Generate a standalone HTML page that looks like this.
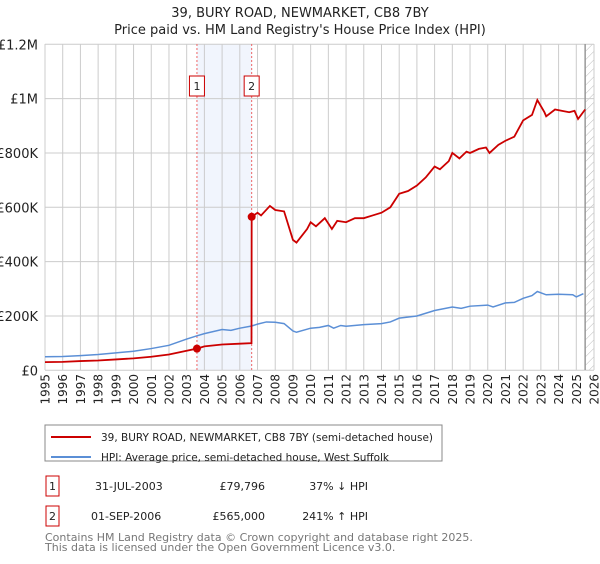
<!DOCTYPE html>
<html><head><meta charset="utf-8"><style>
body{margin:0;background:#fff;font-family:"DejaVu Sans","Liberation Sans",sans-serif;}
svg text{font-family:"DejaVu Sans","Liberation Sans",sans-serif;}
</style></head><body>
<svg id="c" width="600" height="560" xmlns="http://www.w3.org/2000/svg">
<defs><pattern id="hatch" patternUnits="userSpaceOnUse" width="6" height="6" patternTransform="rotate(45)"><line x1="0" y1="0" x2="0" y2="6" stroke="#bbb" stroke-width="1"/></pattern></defs>
<text x="300" y="17" text-anchor="middle" font-size="13" fill="#222">39, BURY ROAD, NEWMARKET, CB8 7BY</text>
<text x="300" y="34" text-anchor="middle" font-size="13" fill="#222">Price paid vs. HM Land Registry's House Price Index (HPI)</text>
<g id="grid"></g><g id="marks"></g>
<rect x="45" y="425" width="397" height="36" fill="#fff" stroke="#888"/>
<line x1="51" y1="437" x2="91" y2="437" stroke="#cc0000" stroke-width="2"/>
<text x="101" y="441" font-size="11" fill="#222" textLength="332" lengthAdjust="spacingAndGlyphs">39, BURY ROAD, NEWMARKET, CB8 7BY (semi-detached house)</text>
<line x1="51" y1="457" x2="91" y2="457" stroke="#5b8fd6" stroke-width="2"/>
<text x="101" y="461" font-size="11" fill="#222" textLength="288" lengthAdjust="spacingAndGlyphs">HPI: Average price, semi-detached house, West Suffolk</text>
<g font-size="11" fill="#222">
<rect x="46" y="476" width="13" height="20" fill="none" stroke="#cc0000"/>
<text x="52.5" y="490" text-anchor="middle">1</text>
<text x="95" y="490">31-JUL-2003</text>
<text x="265" y="490" text-anchor="end">£79,796</text>
<text x="368" y="490" text-anchor="end">37% ↓ HPI</text>
<rect x="46" y="506" width="13" height="20" fill="none" stroke="#cc0000"/>
<text x="52.5" y="520" text-anchor="middle">2</text>
<text x="91" y="520">01-SEP-2006</text>
<text x="265" y="520" text-anchor="end">£565,000</text>
<text x="368" y="520" text-anchor="end">241% ↑ HPI</text>
</g>
<text x="45" y="541" font-size="11" fill="#777">Contains HM Land Registry data © Crown copyright and database right 2025.</text>
<text x="45" y="551" font-size="11" fill="#777">This data is licensed under the Open Government Licence v3.0.</text>
</svg>
<script>
const yTicks=[0,200,400,600,800,1000,1200];
const yTickLabels=["£0","£200K","£400K","£600K","£800K","£1M","£1.2M"];
const years=[1995,1996,1997,1998,1999,2000,2001,2002,2003,2004,2005,2006,2007,2008,2009,2010,2011,2012,2013,2014,2015,2016,2017,2018,2019,2020,2021,2022,2023,2024,2025,2026];
const hpiT=[1995,1996,1997,1998,1999,2000,2001,2002,2003,2003.58,2004,2005,2005.5,2006,2006.67,2007,2007.5,2008,2008.5,2009,2009.2,2010,2010.5,2011,2011.3,2011.7,2012,2013,2014,2014.5,2015,2016,2016.5,2017,2018,2018.5,2019,2020,2020.3,2021,2021.5,2022,2022.5,2022.8,2023.3,2024,2024.8,2025,2025.4];
const hpiV=[50,51,54,58,64,70,80,92,115,127,135,150,147,155,163,170,178,177,172,145,140,155,158,165,155,165,162,168,172,178,192,200,210,220,233,228,236,240,233,248,250,265,275,290,278,280,278,270,282];
const priceT=[1995,1996,1997,1998,1999,2000,2001,2002,2003,2003.58,2004,2005,2006,2006.66,2006.67,2007,2007.2,2007.7,2008,2008.5,2009,2009.2,2009.8,2010,2010.3,2010.8,2011.2,2011.5,2012,2012.5,2013,2013.5,2014,2014.5,2015,2015.5,2016,2016.5,2017,2017.3,2017.8,2018,2018.4,2018.8,2019,2019.5,2019.9,2020.1,2020.6,2021,2021.5,2022,2022.5,2022.8,2023.2,2023.3,2023.8,2024.2,2024.6,2024.9,2025.1,2025.5];
const priceV=[30,31,34,36,40,44,50,58,72,80,88,95,98,100,565,580,570,605,590,585,480,470,520,545,530,560,520,550,545,560,560,570,580,600,650,660,680,710,750,740,770,800,780,805,800,815,820,800,830,845,860,920,940,995,950,935,960,955,950,955,925,960];
const saleT=[2003.58,2006.67];
const saleV=[79.796,565];
const saleLabels=["1","2"];
const X=t=>45+(t-1995)*(549/31), Y=v=>370.3-v*(326/1200);
const NS="http://www.w3.org/2000/svg";
function mk(p,tag,at){const e=document.createElementNS(NS,tag);for(const k in at)e.setAttribute(k,at[k]);p.appendChild(e);return e;}
const g=document.getElementById('grid'),m=document.getElementById('marks');
let r=mk(g,'rect',{x:X(saleT[0]),y:44,width:X(saleT[1])-X(saleT[0]),height:326,fill:'#eef3fd',opacity:0.8});


r=mk(g,'rect',{x:X(2025.5),y:44,width:594-X(2025.5),height:326,fill:'url(#hatch)'});


years.forEach(y=>{let l=mk(g,'line',{x1:X(y),x2:X(y),y1:44,y2:370,stroke:'#ccc'});


let t=mk(g,'text',{x:0,y:0,'font-size':12,fill:'#222','text-anchor':'end',transform:`translate(${X(y)+4.5},374) rotate(-90)`});t.textContent=y;

});
yTicks.forEach((v,i)=>{let l=mk(g,'line',{x1:45,x2:594,y1:Y(v),y2:Y(v),stroke:'#ccc'});


let t=mk(g,'text',{x:38,y:Y(v)+5,'font-size':13,fill:'#222','text-anchor':'end'});t.textContent=yTickLabels[i];

});
let ln=mk(g,'line',{x1:X(2025.5),x2:X(2025.5),y1:44,y2:370,stroke:'#999','stroke-width':1.5});


saleT.forEach((t,i)=>{let l=mk(g,'line',{x1:X(t),x2:X(t),y1:44,y2:370,stroke:'#e66','stroke-dasharray':'2,2'});


let b=mk(g,'rect',{x:X(t)-7.5,y:76,width:15,height:20,fill:'#fff',stroke:'#cc0000'});


let tx=mk(g,'text',{x:X(t),y:90,'font-size':11,'text-anchor':'middle',fill:'#222'});tx.textContent=saleLabels[i];

});
let p=mk(m,'polyline',{points:hpiT.map((t,i)=>X(t)+','+Y(hpiV[i])).join(' '),fill:'none',stroke:'#5b8fd6','stroke-width':1.5});


p=mk(m,'polyline',{points:priceT.map((t,i)=>X(t)+','+Y(priceV[i])).join(' '),fill:'none',stroke:'#cc0000','stroke-width':1.8});


saleT.forEach((t,i)=>{let c=mk(m,'circle',{cx:X(t),cy:Y(saleV[i]),r:4,fill:'#cc0000'});

});
</script>
</body></html>
